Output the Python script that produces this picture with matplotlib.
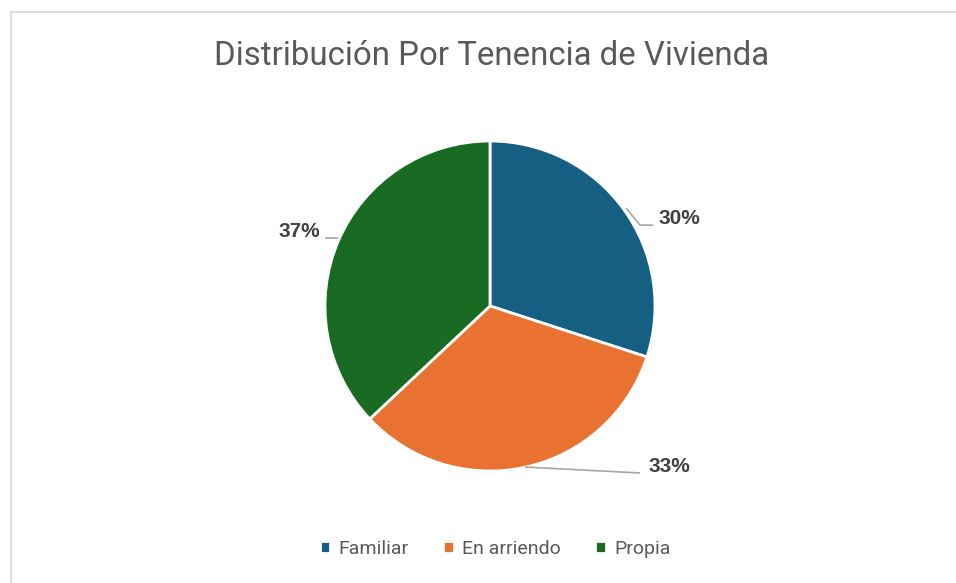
import matplotlib.pyplot as plt
from matplotlib.lines import Line2D

categories = ['Familiar', 'En arriendo', 'Propia']
values = [30, 33, 37]
colors = ['#156082', '#E97132', '#196B24']
# label anchor (text position) and leader lines, in pie-radius units
label_pos = [(0.99, 0.533), (0.93, -0.97), (-1.03, 0.45)]
label_align = ['left', 'left', 'right']
leaders = [[(0.824, 0.594), (0.909, 0.49), (0.99, 0.49)],
           [(0.212, -0.976), (0.909, -1.012)],
           [(-1.0, 0.412), (-0.921, 0.412)]]

W, H = 956, 583
fig = plt.figure(figsize=(W / 100, H / 100), dpi=100)

# chart border (top and left, runs off the image)
fig.add_artist(Line2D([11 / W, 11 / W], [0, 1 - 12 / H], color='#D9D9D9', lw=1.2))
fig.add_artist(Line2D([11 / W, 1], [1 - 12 / H, 1 - 12 / H], color='#D9D9D9', lw=1.2))

cx, cy, r = 490, 306, 165
size = 2 * r * 1.4
ax = fig.add_axes([(cx - size / 2) / W, 1 - (cy + size / 2) / H, size / W, size / H])

wedges, _ = ax.pie(values, colors=colors, startangle=90, counterclock=False,
                   radius=1, center=(0, 0), frame=True,
                   wedgeprops=dict(edgecolor='white', linewidth=2))
ax.set_xlim(-1.4, 1.4)
ax.set_ylim(-1.4, 1.4)
ax.set_aspect('equal')
ax.axis('off')

for v, pos, ha, pts in zip(values, label_pos, label_align, leaders):
    xs, ys = zip(*pts)
    ax.plot(xs, ys, color='#A6A6A6', lw=1.2, solid_capstyle='butt')
    ax.text(pos[0] + (0.03 if ha == 'left' else 0), pos[1], f'{v}%', ha=ha, va='center',
            fontsize=15, fontweight='bold', color='#404040', family='Liberation Sans')

fig.text(492 / W, 1 - 56 / H, 'Distribución Por Tenencia de Vivienda', ha='center', va='center',
         fontsize=23.8, color='#595959', family='Roboto')

leg = fig.legend(wedges, categories, loc='center', bbox_to_anchor=(495 / W, 1 - 549 / H),
                 ncol=3, frameon=False, handlelength=0.55, handleheight=0.55,
                 handletextpad=0.4, columnspacing=1.8,
                 prop=dict(family='Roboto', size=14))
for t in leg.get_texts():
    t.set_color('#595959')

fig.savefig('out.png', dpi=100, facecolor='white')
